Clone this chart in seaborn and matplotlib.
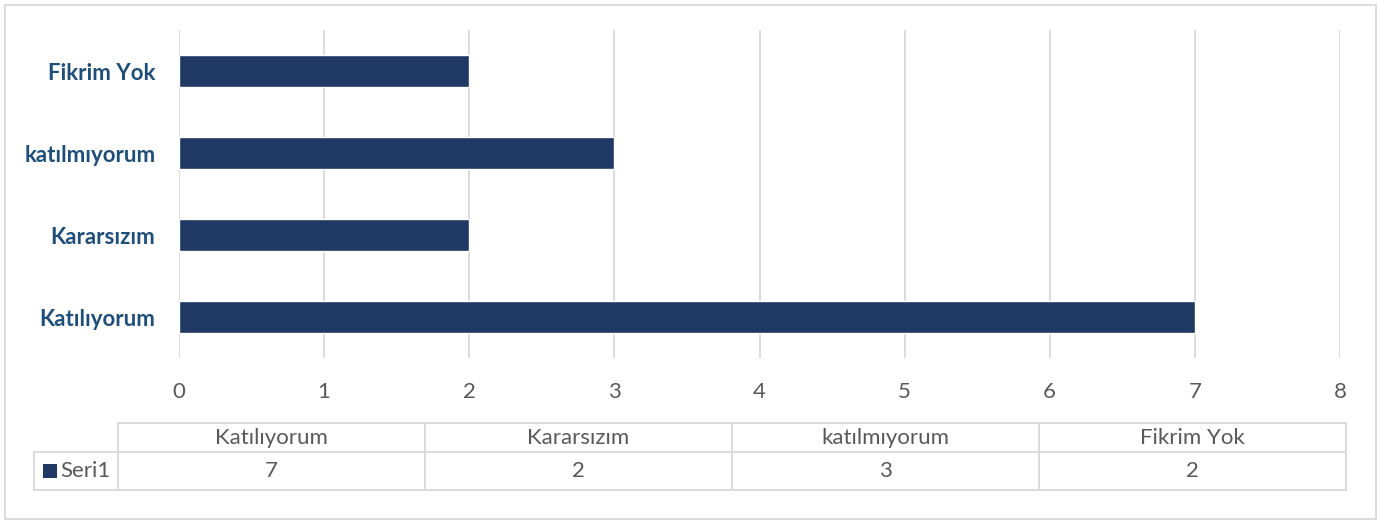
import matplotlib
matplotlib.use("Agg")
import matplotlib.pyplot as plt
import seaborn as sns
import pandas as pd
from matplotlib.patches import Rectangle
from matplotlib.lines import Line2D

categories = ["Katılıyorum", "Kararsızım", "katılmıyorum", "Fikrim Yok"]
values = [7, 2, 3, 2]
series_name = "Seri1"
x_ticks = [0, 1, 2, 3, 4, 5, 6, 7, 8]

sns.set_theme(style="white")
plt.rcParams["font.family"] = ["Lato", "DejaVu Sans"]

BAR = "#203864"
LABEL = "#1F4E79"
TXT = "#595959"
GRID = "#D9D9D9"

W, H = 1384, 522
fig = plt.figure(figsize=(W / 100, H / 100), dpi=100)

def fx(px):
    return px / W

def fy(py):
    return 1 - py / H

ax = fig.add_axes([fx(179), fy(358), fx(1340) - fx(179), fy(30) - fy(358)])

df = pd.DataFrame({"cat": categories, "val": values})
order = categories[::-1]
sns.barplot(data=df, y="cat", x="val", order=order, orient="h", color=BAR,
            width=0.4, ax=ax, saturation=1)
ax.set_xlim(x_ticks[0], x_ticks[-1])
ax.set_ylim(3.5, -0.5)
ax.set_xticks(x_ticks)
ax.set_xticklabels([str(t) for t in x_ticks])
ax.set_xlabel("")
ax.set_ylabel("")
for s in ax.spines.values():
    s.set_visible(False)
ax.grid(True, axis="x", color=GRID, linewidth=1.3)
ax.grid(False, axis="y")
ax.set_axisbelow(True)
ax.tick_params(axis="x", length=0, pad=17, labelsize=16, labelcolor=TXT)
ax.tick_params(axis="y", length=0, pad=17, labelsize=16, labelcolor=LABEL)
for lab in ax.get_yticklabels():
    lab.set_fontweight("bold")

# outer chart border
fig.patches.append(Rectangle((fx(5), fy(519)), fx(1376) - fx(5), fy(5) - fy(519),
                             transform=fig.transFigure, fill=False,
                             edgecolor=GRID, linewidth=1.3))

# data table
col_edges = [118, 425, 732, 1039, 1346]
leg_left = 34
row_top, row_mid, row_bot = 423, 452, 490

def hline(x0, x1, y):
    fig.add_artist(Line2D([fx(x0), fx(x1)], [fy(y), fy(y)], color=GRID, linewidth=1.3))

def vline(x, y0, y1):
    fig.add_artist(Line2D([fx(x), fx(x)], [fy(y0), fy(y1)], color=GRID, linewidth=1.3))

hline(col_edges[0], col_edges[-1], row_top)
hline(leg_left, col_edges[-1], row_mid)
hline(leg_left, col_edges[-1], row_bot)
vline(leg_left, row_mid, row_bot)
for x in col_edges:
    vline(x, row_top, row_bot)

for i, (c, v) in enumerate(zip(categories, values)):
    xc = (col_edges[i] + col_edges[i + 1]) / 2
    fig.text(fx(xc), fy((row_top + row_mid) / 2), c, ha="center", va="center",
             fontsize=16, color=TXT)
    fig.text(fx(xc), fy((row_mid + row_bot) / 2), str(v), ha="center", va="center",
             fontsize=16, color=TXT)

fig.patches.append(Rectangle((fx(43), fy(478)), fx(57) - fx(43), fy(464) - fy(478),
                             transform=fig.transFigure, facecolor=BAR, edgecolor="none"))
fig.text(fx(60), fy((row_mid + row_bot) / 2), series_name, ha="left", va="center",
         fontsize=16, color=TXT)

fig.savefig("out.png", dpi=100, facecolor="white")
